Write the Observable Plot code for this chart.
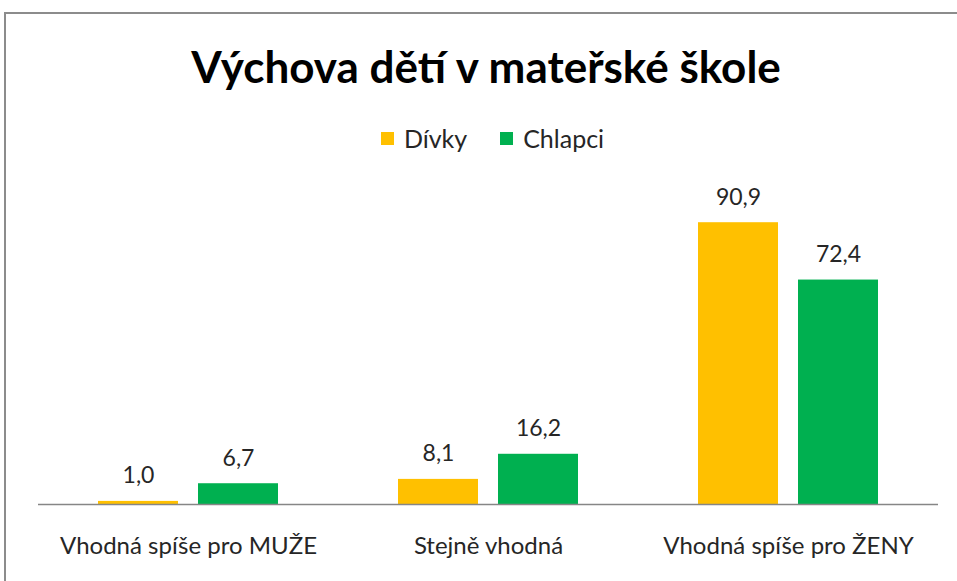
<!DOCTYPE html>
<html>
<head>
<meta charset="utf-8">
<script src="https://cdn.jsdelivr.net/npm/d3@7"></script>
<script src="https://cdn.jsdelivr.net/npm/@observablehq/plot@0.6"></script>
<style>
  html, body { margin: 0; padding: 0; background: #fff; overflow: hidden; }
  #wrap { position: relative; width: 957px; height: 581px; overflow: hidden; font-family: Lato, "Open Sans", sans-serif; }
  #frame { position: absolute; left: 4px; top: 12px; width: 1100px; height: 800px; border: 2px solid #8c8c8c; box-sizing: border-box; }
  #title { position: absolute; left: 0; width: 972px; top: 40px; text-align: center; font-size: 44px; font-weight: bold; line-height: 1.2; color: #000; white-space: nowrap; }
  #legend { position: absolute; left: 0; width: 985px; top: 122px; display: flex; justify-content: center; align-items: center; font-size: 25px; color: #262626; line-height: 32px; }
  .sw { display: inline-block; width: 13px; height: 13px; margin-right: 10px; }
  .item { display: flex; align-items: center; margin: 0 16.5px; }
  #chart { position: absolute; left: 0; top: 160px; }
</style>
</head>
<body>
<div id="wrap">
  <div id="frame"></div>
  <div id="title"></div>
  <div id="legend"></div>
  <div id="chart"></div>
</div>
<script>
const titleText = "Výchova dětí v mateřské škole";
const categories = ["Vhodná spíše pro MUŽE", "Stejně vhodná", "Vhodná spíše pro ŽENY"];
const series = ["Dívky", "Chlapci"];
const colors = ["#FFC000", "#00B050"];
const divky = [1.0, 8.1, 90.9];
const chlapci = [6.7, 16.2, 72.4];

const data = [];
categories.forEach((c, i) => {
  data.push({category: c, series: "Dívky", value: divky[i]});
  data.push({category: c, series: "Chlapci", value: chlapci[i]});
});
const fmt = v => v.toFixed(1).replace(".", ",");

document.getElementById("title").textContent = titleText;
const legend = document.getElementById("legend");
series.forEach((s, i) => {
  const it = document.createElement("div");
  it.className = "item";
  const sw = document.createElement("span");
  sw.className = "sw";
  sw.style.background = colors[i];
  const t = document.createElement("span");
  t.textContent = s;
  it.appendChild(sw); it.appendChild(t);
  legend.appendChild(it);
});

const chart = Plot.plot({
  width: 957,
  height: 421,
  marginTop: 34,
  marginBottom: 77,
  marginLeft: 38,
  marginRight: 19,
  style: {background: "transparent", fontFamily: "Lato, 'Open Sans', sans-serif", fontSize: "24px", color: "#262626"},
  fx: {domain: categories, padding: 0, axis: "bottom", tickSize: 0, tickPadding: 32, label: null},
  x: {domain: series, paddingInner: 0.2, paddingOuter: 0.6, axis: null},
  y: {domain: [0, 100], axis: null},
  color: {domain: series, range: colors},
  marks: [
    Plot.barY(data, {fx: "category", x: "series", y: "value", fill: "series"}),
    Plot.ruleY([0], {stroke: "#868686", strokeWidth: 1.5}),
    Plot.text(data, {fx: "category", x: "series", y: "value", text: d => fmt(d.value), lineAnchor: "bottom", dy: -18, fontSize: 23, fill: "#262626"})
  ]
});
document.getElementById("chart").appendChild(chart);
</script>
</body>
</html>
